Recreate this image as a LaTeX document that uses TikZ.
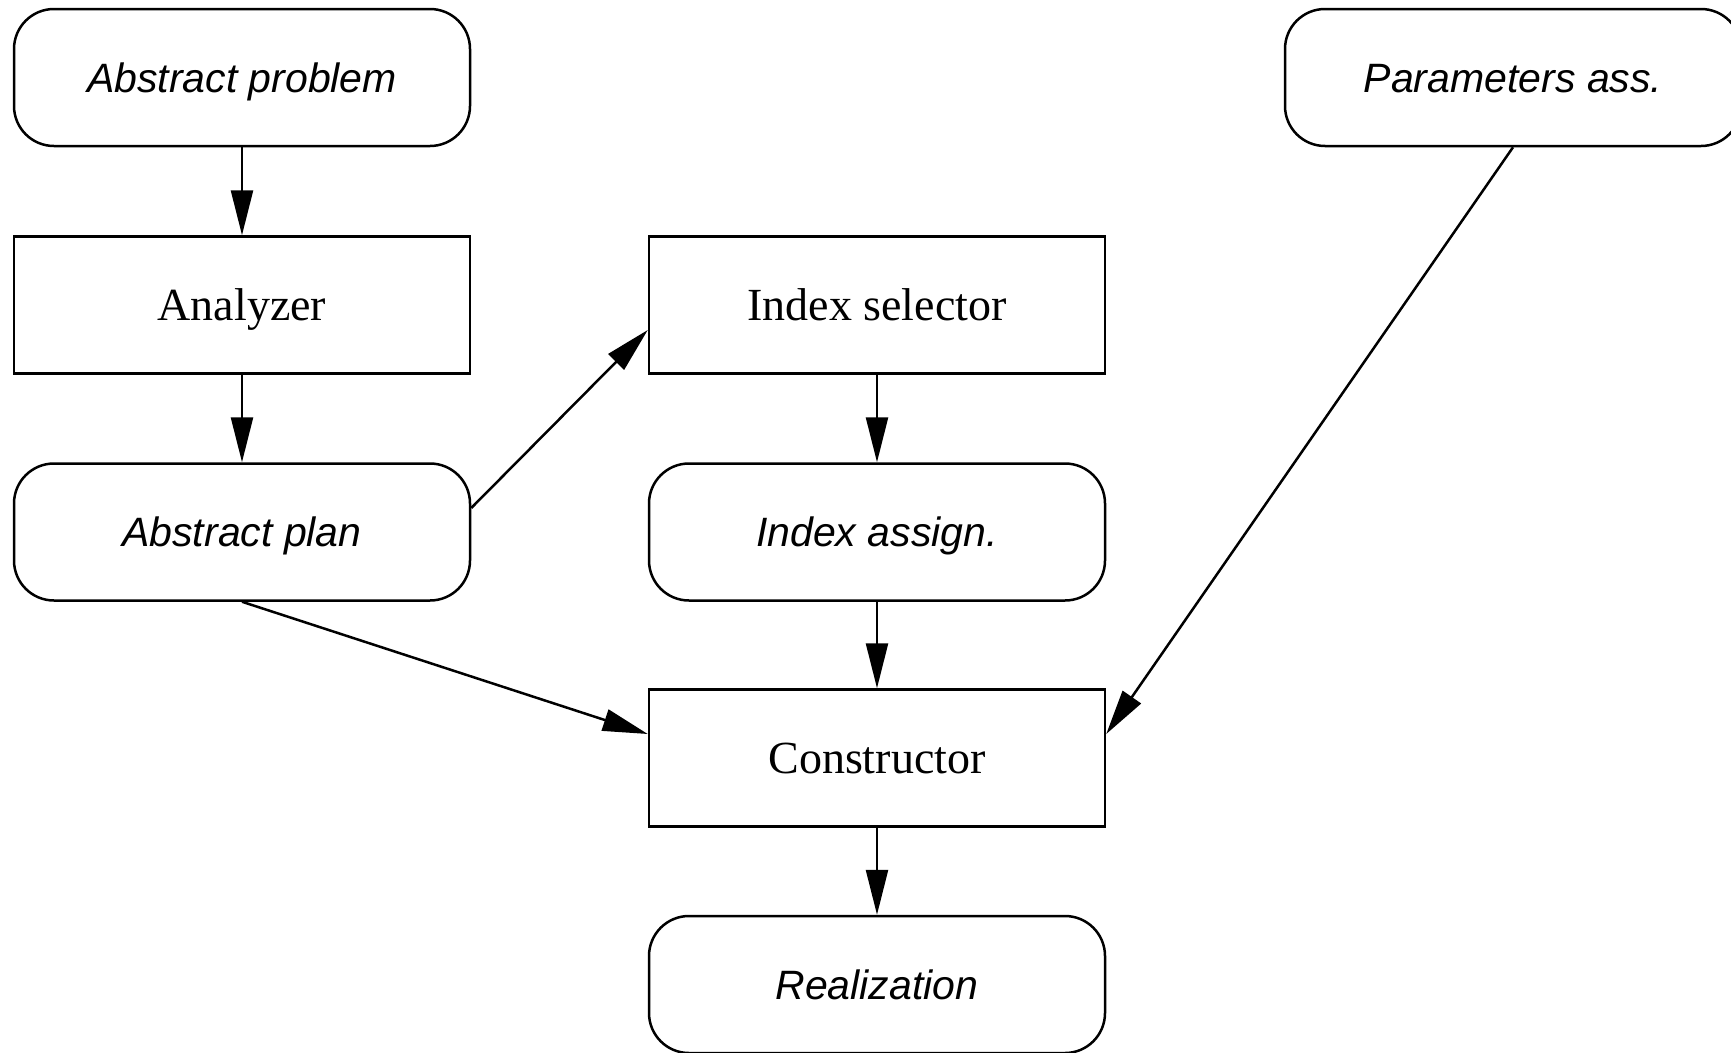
\documentclass[tikz,border=0pt]{standalone}
\usepackage{fontspec}
\setmainfont{Liberation Serif}
\setsansfont{Liberation Sans}
\usetikzlibrary{arrows.meta,calc}
\begin{document}
\begin{tikzpicture}[x=1pt,y=-1pt,
  base/.style={draw, line width=2.5pt, minimum width=456pt, minimum height=137pt, inner sep=0pt},
  proc/.style={base, font=\fontsize{46}{50}\selectfont, text height=31.3pt, text depth=0pt},
  data/.style={base, rounded corners=40pt, font=\sffamily\itshape\fontsize{41}{46}\selectfont, text height=29.5pt, text depth=0pt},
  link/.style={line width=2.5pt, -{Triangle[length=45pt,width=22pt]}}]
\useasboundingbox (0,0) rectangle (1731,1052);
\node[data] (prob) at (242,77.5) {Abstract problem};
\node[proc] (ana)  at (242,305) {Analyzer};
\node[data] (plan) at (242,532) {Abstract plan};
\node[proc] (isel) at (877,305) {Index selector};
\node[data] (iass) at (877,532) {Index assign.};
\node[proc] (cons) at (877,758) {Constructor};
\node[data] (real) at (877,984.5) {Realization};
\node[data] (par)  at (1513,77.5) {Parameters ass.};
\draw[link] (prob) -- (ana);
\draw[link] (ana) -- (plan);
\draw[link] ([yshift=24pt]plan.east) -- ([yshift=-25pt]isel.west);
\draw[link] (isel) -- (iass);
\draw[link] (iass) -- (cons);
\draw[link] (plan.south) -- ([yshift=24pt]cons.west);
\draw[link] (par.south) -- ([yshift=24pt]cons.east);
\draw[link] (cons) -- (real);
\end{tikzpicture}
\end{document}
